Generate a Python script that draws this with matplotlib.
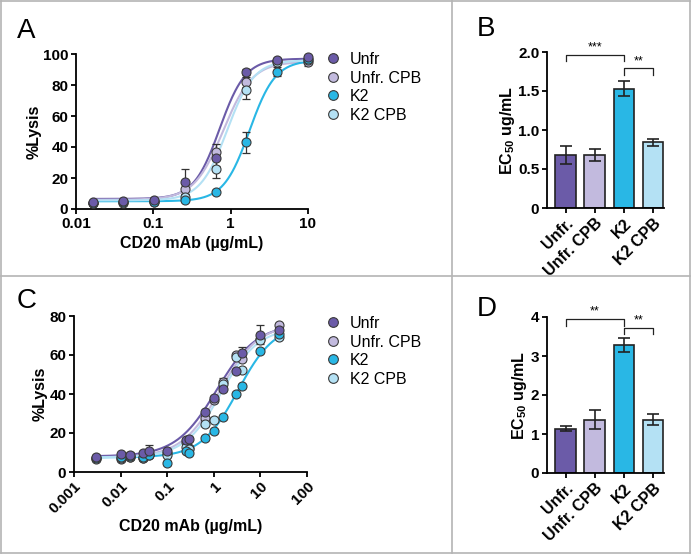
import numpy as np
import matplotlib
matplotlib.use('Agg')
import matplotlib.pyplot as plt
from matplotlib.lines import Line2D

plt.rcParams['font.family'] = ['Liberation Sans', 'DejaVu Sans']
plt.rcParams['mathtext.fontset'] = 'custom'
plt.rcParams['mathtext.rm'] = 'Liberation Sans'
plt.rcParams['mathtext.bf'] = 'Liberation Sans:bold'

# groups and colours
groups = ['Unfr', 'Unfr. CPB', 'K2', 'K2 CPB']
bar_labels = ['Unfr.', 'Unfr. CPB', 'K2', 'K2 CPB']
colors = ['#6b5ba8', '#c2bade', '#29b7e5', '#b4e1f4']

# panel A - lysis vs CD20 mAb
conc_a = [0.0164, 0.041, 0.1024, 0.256, 0.64, 1.6, 4, 10]
lysis_a_unfr = [4.3, 5.0, 5.8, 17.6, 32.7, 88.6, 96.0, 97.8]
lysis_a_unfr_cpb = [4.0, 4.5, 5.0, 13.0, 37.0, 82.0, 95.5, 95.0]
lysis_a_k2 = [4.0, 4.5, 4.5, 6.0, 11.0, 43.0, 88.6, 96.5]
lysis_a_k2_cpb = [4.0, 4.0, 4.5, 8.0, 26.0, 77.0, 95.0, 96.0]
err_a_unfr = [1, 1, 1, 8, 5, 2, 1.5, 1]
err_a_unfr_cpb = [1, 1, 1, 3, 5, 3, 1.5, 2.5]
err_a_k2 = [0.5, 0.5, 0.5, 1, 1, 7, 3, 1]
err_a_k2_cpb = [0.5, 0.5, 0.5, 2, 6, 6, 2, 1.5]
# four-parameter logistic fits
fit_a_bottom = [6.5, 6.0, 5.0, 5.5]
fit_a_top = [97, 95, 96, 96]
fit_a_ec50 = [0.72, 0.80, 1.75, 0.90]
fit_a_hill = [2.6, 2.3, 2.6, 2.5]

# panel C
conc_c = [0.003, 0.01, 0.016, 0.03, 0.04, 0.1, 0.256, 0.3, 0.64, 1, 1.6, 3, 4, 10, 25]
lysis_c_unfr = [7.7, 9.0, 8.5, 9.7, 10.8, 10.8, 16.6, 17.0, 30.8, 38.0, 42.7, 52.0, 61.0, 70.5, 73.0]
lysis_c_unfr_cpb = [7.0, 6.5, 7.7, 7.0, 8.5, 9.7, 15.4, 12.3, 27.9, 36.8, 46.0, 59.8, 58.0, 68.0, 75.2]
lysis_c_k2 = [7.3, 7.7, 8.0, 7.7, 8.5, 4.8, 11.0, 10.0, 17.4, 21.0, 28.2, 39.8, 44.0, 62.0, 71.0]
lysis_c_k2_cpb = [6.8, 7.3, 7.7, 7.2, 9.4, 8.5, 12.8, 12.0, 24.8, 26.5, 45.0, 59.0, 52.5, 67.5, 69.0]
err_c_unfr = [1, 1, 2, 1, 3, 1, 1, 1, 1, 1, 1, 1, 3, 5, 1]
err_c_unfr_cpb = [1, 1, 1, 1, 1, 1, 1, 1, 1, 1, 2, 1, 1, 1, 1]
err_c_k2 = [1, 1, 1, 1, 1, 1, 1, 1, 1, 1, 1, 1, 1, 1, 1]
err_c_k2_cpb = [1, 1, 1, 1, 1, 1, 1, 1, 1, 1, 1, 1, 1, 1, 1]
fit_c_bottom = [8.0, 7.5, 7.5, 7.5]
fit_c_top = [76, 76, 76, 74]
fit_c_ec50 = [1.15, 1.35, 3.3, 1.45]
fit_c_hill = [1.0, 1.05, 1.1, 1.1]

# panels B and D - EC50
ec50_b = [0.68, 0.68, 1.53, 0.84]
ec50_b_err = [0.11, 0.08, 0.10, 0.045]
ec50_d = [1.14, 1.37, 3.29, 1.37]
ec50_d_err = [0.07, 0.24, 0.18, 0.15]
# brackets: (left bar, right bar, top, leg end, label)
sig_b = [(0, 2, 1.96, 1.88, '***'), (2, 3, 1.79, 1.70, '**')]
sig_d = [(0, 2, 3.95, 3.76, '**'), (2, 3, 3.73, 3.56, '**')]

W, H = 691, 554
fig = plt.figure(figsize=(W / 100, H / 100), dpi=100)


def px_axes(x0, x1, y_top, y_bot):
    return fig.add_axes([x0 / W, 1 - y_bot / H, (x1 - x0) / W, (y_bot - y_top) / H])


def style(ax):
    for s in ['top', 'right']:
        ax.spines[s].set_visible(False)
    for s in ['left', 'bottom']:
        ax.spines[s].set_linewidth(1.3)
    ax.tick_params(width=1.3, length=3.5, pad=2, labelsize=11)
    for t in ax.get_xticklabels() + ax.get_yticklabels():
        t.set_fontweight('bold')


def logistic(x, b, t, ec, h):
    return b + (t - b) / (1 + (ec / x) ** h)


def dose_panel(ax, conc, series, errs, bottoms, tops, ec50s, hills, xlim):
    xs = np.logspace(np.log10(min(conc)), np.log10(max(conc)), 300)
    for i in range(4):
        ax.plot(xs, logistic(xs, bottoms[i], tops[i], ec50s[i], hills[i]),
                color=colors[i], lw=1.5, zorder=2)
    for i in [1, 3, 2, 0]:
        ax.errorbar(conc, series[i], yerr=errs[i], fmt='none', ecolor='#333333',
                    elinewidth=0.9, capsize=3, capthick=0.9, zorder=3)
        ax.plot(conc, series[i], 'o', ms=6.5, mfc=colors[i], mec='#3a3a3a',
                mew=0.8, zorder=4, clip_on=False)
    ax.set_xscale('log')
    ax.set_xlim(*xlim)
    ax.minorticks_off()


def legend(ax, top_px):
    handles = [Line2D([], [], ls='', marker='o', ms=7, mfc=c, mec='#3a3a3a', mew=0.8)
               for c in colors]
    ax.legend(handles, groups, loc='upper left', bbox_to_anchor=(325 / W, 1 - top_px / H),
              bbox_transform=fig.transFigure, frameon=False, fontsize=11.5,
              handlelength=1.0, handletextpad=0.55, labelspacing=0.22,
              borderpad=0, borderaxespad=0)


def bar_panel(ax, vals, errs, sig, ymax, ticks, ticklabels):
    x = np.arange(4)
    ax.bar(x, vals, width=0.71, color=colors, edgecolor='#222222', linewidth=1.2, zorder=2)
    ax.errorbar(x, vals, yerr=errs, fmt='none', ecolor='#222222', elinewidth=1.2,
                capsize=4.5, capthick=1.2, zorder=3)
    ax.set_xlim(-0.64, 3.38)
    ax.set_ylim(0, ymax)
    ax.set_yticks(ticks)
    ax.set_yticklabels(ticklabels)
    ax.set_xticks(x)
    ax.set_xticklabels(bar_labels, rotation=45, ha='right', va='top',
                       rotation_mode='anchor')
    for a, b, top, leg, lab in sig:
        ax.plot([a, a, b, b], [leg, top, top, leg], color='#222222', lw=0.9, clip_on=False)
        ax.text((a + b) / 2, top + ymax * 0.008, lab, ha='center', va='bottom', fontsize=9)
    ax.set_ylabel(r'EC$_{\mathbf{50}}$ ug/mL', fontsize=11.5, fontweight='bold', labelpad=1)


# panel A
axA = px_axes(76, 308, 54, 209)
dose_panel(axA, conc_a, [lysis_a_unfr, lysis_a_unfr_cpb, lysis_a_k2, lysis_a_k2_cpb],
           [err_a_unfr, err_a_unfr_cpb, err_a_k2, err_a_k2_cpb],
           fit_a_bottom, fit_a_top, fit_a_ec50, fit_a_hill, (0.01, 10))
axA.set_ylim(0, 100)
axA.set_yticks([0, 20, 40, 60, 80, 100])
axA.set_xticks([0.01, 0.1, 1, 10])
axA.set_xticklabels(['0.01', '0.1', '1', '10'])
axA.set_ylabel('%Lysis', fontsize=11.5, fontweight='bold', labelpad=1)
axA.set_xlabel('CD20 mAb (\u00b5g/mL)', fontsize=11.5, fontweight='bold')
style(axA)
legend(axA, 52)

# panel C
axC = px_axes(74, 307, 316, 472)
dose_panel(axC, conc_c, [lysis_c_unfr, lysis_c_unfr_cpb, lysis_c_k2, lysis_c_k2_cpb],
           [err_c_unfr, err_c_unfr_cpb, err_c_k2, err_c_k2_cpb],
           fit_c_bottom, fit_c_top, fit_c_ec50, fit_c_hill, (0.001, 100))
axC.set_ylim(0, 80)
axC.set_yticks([0, 20, 40, 60, 80])
axC.set_xticks([0.001, 0.01, 0.1, 1, 10, 100])
axC.set_xticklabels(['0.001', '0.01', '0.1', '1', '10', '100'], rotation=45,
                    ha='right', va='top', rotation_mode='anchor')
axC.set_ylabel('%Lysis', fontsize=11.5, fontweight='bold', labelpad=1)
axC.set_xlabel('CD20 mAb (\u00b5g/mL)', fontsize=11.5, fontweight='bold', labelpad=2)
style(axC)
legend(axC, 316)

# panel B
axB = px_axes(547, 664, 52, 208)
bar_panel(axB, ec50_b, ec50_b_err, sig_b, 2.0, [0, 0.5, 1.0, 1.5, 2.0],
          ['0', '0.5', '1.0', '1.5', '2.0'])
style(axB)
axB.tick_params(axis='x', labelsize=11.5)

# panel D
axD = px_axes(547, 664, 317, 473)
bar_panel(axD, ec50_d, ec50_d_err, sig_d, 4.0, [0, 1, 2, 3, 4], ['0', '1', '2', '3', '4'])
style(axD)
axD.tick_params(axis='x', labelsize=11.5)

# panel letters
for lab, x, y in [('A', 17, 38), ('B', 477, 36), ('C', 17, 308), ('D', 477, 316)]:
    fig.text(x / W, 1 - y / H, lab, fontsize=20, ha='left', va='baseline')

# frame lines
gray = '#b4b4b4'
for xs, ys in [([1, W - 1], [1, 1]), ([1, W - 1], [H - 1, H - 1]),
               ([1, 1], [1, H - 1]), ([W - 1, W - 1], [1, H - 1]),
               ([452, 452], [1, H - 1]), ([1, W - 1], [276, 276])]:
    fig.add_artist(Line2D([x / W for x in xs], [1 - y / H for y in ys],
                          color=gray, lw=1.2))

fig.savefig('out.png', dpi=100)
